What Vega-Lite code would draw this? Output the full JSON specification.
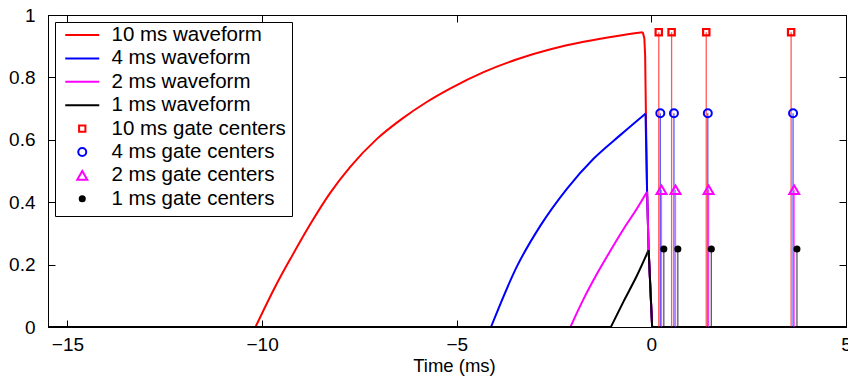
{
  "$schema": "https://vega.github.io/schema/vega-lite/v6.json",
  "width": 798,
  "height": 312,
  "autosize": {"type": "none"},
  "padding": {"left": 48, "top": 15, "right": 2, "bottom": 54},
  "background": "white",
  "config": {
    "view": {"stroke": "black", "strokeWidth": 1},
    "axis": {
      "domainColor": "black", "domainWidth": 1,
      "tickColor": "black", "tickWidth": 1, "tickSize": -7,
      "labelColor": "black", "titleColor": "black",
      "labelFont": "Liberation Sans", "titleFont": "Liberation Sans",
      "labelFontSize": 19, "titleFontSize": 18.5, "titleFontWeight": "normal",
      "grid": false, "labelFlush": false, "labelOverlap": false, "labelBound": false
    }
  },
  "datasets": {
    "waveforms": [
      {"series": "10 ms waveform", "part": "before", "t": -15.5, "v": 0},
      {"series": "10 ms waveform", "part": "before", "t": -10.17, "v": 0},
      {"series": "10 ms waveform", "part": "rise", "t": -10.17, "v": 0},
      {"series": "10 ms waveform", "part": "rise", "t": -9.66, "v": 0.13},
      {"series": "10 ms waveform", "part": "rise", "t": -9.23, "v": 0.228},
      {"series": "10 ms waveform", "part": "rise", "t": -8.76, "v": 0.33},
      {"series": "10 ms waveform", "part": "rise", "t": -8.25, "v": 0.43},
      {"series": "10 ms waveform", "part": "rise", "t": -7.73, "v": 0.514},
      {"series": "10 ms waveform", "part": "rise", "t": -7.05, "v": 0.603},
      {"series": "10 ms waveform", "part": "rise", "t": -6.4, "v": 0.668},
      {"series": "10 ms waveform", "part": "rise", "t": -5.76, "v": 0.722},
      {"series": "10 ms waveform", "part": "rise", "t": -5.16, "v": 0.765},
      {"series": "10 ms waveform", "part": "rise", "t": -4.31, "v": 0.817},
      {"series": "10 ms waveform", "part": "rise", "t": -3.45, "v": 0.858},
      {"series": "10 ms waveform", "part": "rise", "t": -2.59, "v": 0.89},
      {"series": "10 ms waveform", "part": "rise", "t": -1.74, "v": 0.914},
      {"series": "10 ms waveform", "part": "rise", "t": -0.88, "v": 0.933},
      {"series": "10 ms waveform", "part": "rise", "t": -0.22, "v": 0.945},
      {"series": "10 ms waveform", "part": "after", "t": -0.22, "v": 0.945},
      {"series": "10 ms waveform", "part": "after", "t": -0.18, "v": 0.925},
      {"series": "10 ms waveform", "part": "after", "t": -0.16, "v": 0.87},
      {"series": "10 ms waveform", "part": "after", "t": -0.14, "v": 0.685},
      {"series": "10 ms waveform", "part": "after", "t": -0.11, "v": 0.434},
      {"series": "10 ms waveform", "part": "after", "t": -0.07, "v": 0.247},
      {"series": "10 ms waveform", "part": "after", "t": 0.02, "v": 0},
      {"series": "10 ms waveform", "part": "after", "t": 5, "v": 0},

      {"series": "4 ms waveform", "part": "before", "t": -15.5, "v": 0},
      {"series": "4 ms waveform", "part": "before", "t": -4.12, "v": 0},
      {"series": "4 ms waveform", "part": "rise", "t": -4.12, "v": 0},
      {"series": "4 ms waveform", "part": "rise", "t": -3.45, "v": 0.195},
      {"series": "4 ms waveform", "part": "rise", "t": -2.85, "v": 0.325},
      {"series": "4 ms waveform", "part": "rise", "t": -2.17, "v": 0.443},
      {"series": "4 ms waveform", "part": "rise", "t": -1.48, "v": 0.54},
      {"series": "4 ms waveform", "part": "rise", "t": -0.8, "v": 0.615},
      {"series": "4 ms waveform", "part": "rise", "t": -0.15, "v": 0.684},
      {"series": "4 ms waveform", "part": "after", "t": -0.15, "v": 0.684},
      {"series": "4 ms waveform", "part": "after", "t": -0.11, "v": 0.434},
      {"series": "4 ms waveform", "part": "after", "t": -0.07, "v": 0.247},
      {"series": "4 ms waveform", "part": "after", "t": 0.02, "v": 0},
      {"series": "4 ms waveform", "part": "after", "t": 5, "v": 0},

      {"series": "2 ms waveform", "part": "before", "t": -15.5, "v": 0},
      {"series": "2 ms waveform", "part": "before", "t": -2.08, "v": 0},
      {"series": "2 ms waveform", "part": "rise", "t": -2.08, "v": 0},
      {"series": "2 ms waveform", "part": "rise", "t": -1.74, "v": 0.09},
      {"series": "2 ms waveform", "part": "rise", "t": -1.39, "v": 0.172},
      {"series": "2 ms waveform", "part": "rise", "t": -1.05, "v": 0.245},
      {"series": "2 ms waveform", "part": "rise", "t": -0.71, "v": 0.315},
      {"series": "2 ms waveform", "part": "rise", "t": -0.37, "v": 0.38},
      {"series": "2 ms waveform", "part": "rise", "t": -0.11, "v": 0.434},
      {"series": "2 ms waveform", "part": "after", "t": -0.11, "v": 0.434},
      {"series": "2 ms waveform", "part": "after", "t": -0.07, "v": 0.247},
      {"series": "2 ms waveform", "part": "after", "t": 0.02, "v": 0},
      {"series": "2 ms waveform", "part": "after", "t": 5, "v": 0},

      {"series": "1 ms waveform", "part": "before", "t": -15.5, "v": 0},
      {"series": "1 ms waveform", "part": "before", "t": -1.04, "v": 0},
      {"series": "1 ms waveform", "part": "rise", "t": -1.04, "v": 0},
      {"series": "1 ms waveform", "part": "rise", "t": -0.71, "v": 0.083},
      {"series": "1 ms waveform", "part": "rise", "t": -0.37, "v": 0.165},
      {"series": "1 ms waveform", "part": "rise", "t": -0.07, "v": 0.247},
      {"series": "1 ms waveform", "part": "after", "t": -0.07, "v": 0.247},
      {"series": "1 ms waveform", "part": "after", "t": 0.02, "v": 0},
      {"series": "1 ms waveform", "part": "after", "t": 5, "v": 0}
    ],
    "gates": [
      {"series": "10 ms gate centers", "t": 0.19, "v": 0.945},
      {"series": "10 ms gate centers", "t": 0.52, "v": 0.945},
      {"series": "10 ms gate centers", "t": 1.41, "v": 0.945},
      {"series": "10 ms gate centers", "t": 3.59, "v": 0.945},
      {"series": "4 ms gate centers", "t": 0.23, "v": 0.685},
      {"series": "4 ms gate centers", "t": 0.58, "v": 0.685},
      {"series": "4 ms gate centers", "t": 1.45, "v": 0.685},
      {"series": "4 ms gate centers", "t": 3.64, "v": 0.685},
      {"series": "2 ms gate centers", "t": 0.26, "v": 0.44},
      {"series": "2 ms gate centers", "t": 0.62, "v": 0.44},
      {"series": "2 ms gate centers", "t": 1.47, "v": 0.44},
      {"series": "2 ms gate centers", "t": 3.67, "v": 0.44},
      {"series": "1 ms gate centers", "t": 0.32, "v": 0.25},
      {"series": "1 ms gate centers", "t": 0.68, "v": 0.25},
      {"series": "1 ms gate centers", "t": 1.54, "v": 0.25},
      {"series": "1 ms gate centers", "t": 3.74, "v": 0.25}
    ]
  },
  "layer": [
    {
      "data": {"name": "waveforms"},
      "transform": [{"filter": "datum.part === 'rise'"}],
      "mark": {"type": "line", "strokeWidth": 2, "interpolate": "monotone"},
      "encoding": {
        "x": {
          "field": "t", "type": "quantitative",
          "scale": {"domain": [-15.5, 5], "nice": false, "zero": false},
          "axis": {
            "orient": "bottom", "values": [-15, -10, -5, 0, 5],
            "title": "Time (ms)", "labelPadding": 15,
            "titleX": 406, "titleY": 44, "titleBaseline": "alphabetic"
          }
        },
        "y": {
          "field": "v", "type": "quantitative",
          "scale": {"domain": [0, 1], "nice": false, "zero": false},
          "axis": {"orient": "left", "values": [0, 0.2, 0.4, 0.6, 0.8, 1], "format": "~g", "title": null, "labelPadding": 20}
        },
        "color": {
          "field": "series", "type": "nominal",
          "scale": {
            "domain": ["10 ms waveform", "4 ms waveform", "2 ms waveform", "1 ms waveform",
                       "10 ms gate centers", "4 ms gate centers", "2 ms gate centers", "1 ms gate centers"],
            "range": ["#ff0000", "#0000ff", "#ff00ff", "#000000", "#ff0000", "#0000ff", "#ff00ff", "#000000"]
          },
          "legend": {
            "orient": "none", "legendX": 7, "legendY": 7,
            "title": null,
            "strokeColor": "black", "fillColor": "white", "padding": 6,
            "labelFont": "Liberation Sans", "labelFontSize": 20.5, "labelColor": "black",
            "labelLimit": 0,
            "labelOffset": 19, "symbolOffset": 11,
            "symbolSize": 1156, "symbolStrokeWidth": 2, "clipHeight": 14, "rowPadding": 2.4,
            "encode": {
              "symbols": {
                "update": {
                  "shape": {"signal": "datum.value === '10 ms gate centers' ? 'square' : (datum.value === '4 ms gate centers' || datum.value === '1 ms gate centers') ? 'circle' : datum.value === '2 ms gate centers' ? 'triangle-up' : 'stroke'"},
                  "size": {"signal": "datum.value === '10 ms gate centers' ? 40 : datum.value === '4 ms gate centers' ? 64 : datum.value === '2 ms gate centers' ? 100 : datum.value === '1 ms gate centers' ? 50 : 1156"},
                  "stroke": {"scale": "color", "field": "value"},
                  "fill": {"signal": "datum.value === '1 ms gate centers' ? 'black' : 'white'"},
                  "fillOpacity": {"signal": "datum.value === '1 ms gate centers' ? 1 : 0"},
                  "strokeWidth": {"signal": "datum.value === '1 ms gate centers' ? 0 : 2"},
                  "opacity": {"value": 1}
                }
              }
            }
          }
        }
      }
    },
    {
      "data": {"name": "waveforms"},
      "transform": [{"filter": "datum.part !== 'rise'"}],
      "mark": {"type": "line", "strokeWidth": 2},
      "encoding": {
        "x": {"field": "t", "type": "quantitative", "scale": {"domain": [-15.5, 5], "nice": false, "zero": false}, "axis": null},
        "y": {"field": "v", "type": "quantitative", "scale": {"domain": [0, 1], "nice": false, "zero": false}, "axis": null},
        "color": {"field": "series", "type": "nominal"},
        "detail": {"field": "part", "type": "nominal"}
      }
    },
    {
      "data": {"name": "gates"},
      "mark": {"type": "rule", "strokeWidth": 1.3, "opacity": 0.65},
      "encoding": {
        "x": {
          "field": "t", "type": "quantitative",
          "scale": {"domain": [-15.5, 5], "nice": false, "zero": false},
          "axis": {"orient": "top", "values": [-15, -10, -5, 0, 5], "labels": false, "title": null}
        },
        "y": {
          "field": "v", "type": "quantitative",
          "scale": {"domain": [0, 1], "nice": false, "zero": false},
          "axis": {"orient": "right", "values": [0, 0.2, 0.4, 0.6, 0.8, 1], "labels": false, "title": null}
        },
        "y2": {"datum": 0},
        "color": {"field": "series", "type": "nominal"}
      }
    },
    {
      "data": {"name": "gates"},
      "transform": [{"filter": "datum.series === '10 ms gate centers'"}],
      "mark": {"type": "point", "shape": "square", "filled": false, "size": 40, "strokeWidth": 2.2, "opacity": 1},
      "encoding": {
        "x": {"field": "t", "type": "quantitative", "scale": {"domain": [-15.5, 5], "nice": false, "zero": false}, "axis": null},
        "y": {"field": "v", "type": "quantitative", "scale": {"domain": [0, 1], "nice": false, "zero": false}, "axis": null},
        "color": {"field": "series", "type": "nominal"}
      }
    },
    {
      "data": {"name": "gates"},
      "transform": [{"filter": "datum.series === '4 ms gate centers'"}],
      "mark": {"type": "point", "shape": "circle", "filled": false, "size": 64, "strokeWidth": 2, "opacity": 1},
      "encoding": {
        "x": {"field": "t", "type": "quantitative", "scale": {"domain": [-15.5, 5], "nice": false, "zero": false}, "axis": null},
        "y": {"field": "v", "type": "quantitative", "scale": {"domain": [0, 1], "nice": false, "zero": false}, "axis": null},
        "color": {"field": "series", "type": "nominal"}
      }
    },
    {
      "data": {"name": "gates"},
      "transform": [{"filter": "datum.series === '2 ms gate centers'"}],
      "mark": {"type": "point", "shape": "triangle-up", "filled": false, "size": 100, "strokeWidth": 2, "opacity": 1},
      "encoding": {
        "x": {"field": "t", "type": "quantitative", "scale": {"domain": [-15.5, 5], "nice": false, "zero": false}, "axis": null},
        "y": {"field": "v", "type": "quantitative", "scale": {"domain": [0, 1], "nice": false, "zero": false}, "axis": null},
        "color": {"field": "series", "type": "nominal"}
      }
    },
    {
      "data": {"name": "gates"},
      "transform": [{"filter": "datum.series === '1 ms gate centers'"}],
      "mark": {"type": "point", "shape": "circle", "filled": true, "size": 50, "opacity": 1},
      "encoding": {
        "x": {"field": "t", "type": "quantitative", "scale": {"domain": [-15.5, 5], "nice": false, "zero": false}, "axis": null},
        "y": {"field": "v", "type": "quantitative", "scale": {"domain": [0, 1], "nice": false, "zero": false}, "axis": null},
        "color": {"field": "series", "type": "nominal"}
      }
    }
  ],
  "resolve": {"axis": {"x": "independent", "y": "independent"}}
}
